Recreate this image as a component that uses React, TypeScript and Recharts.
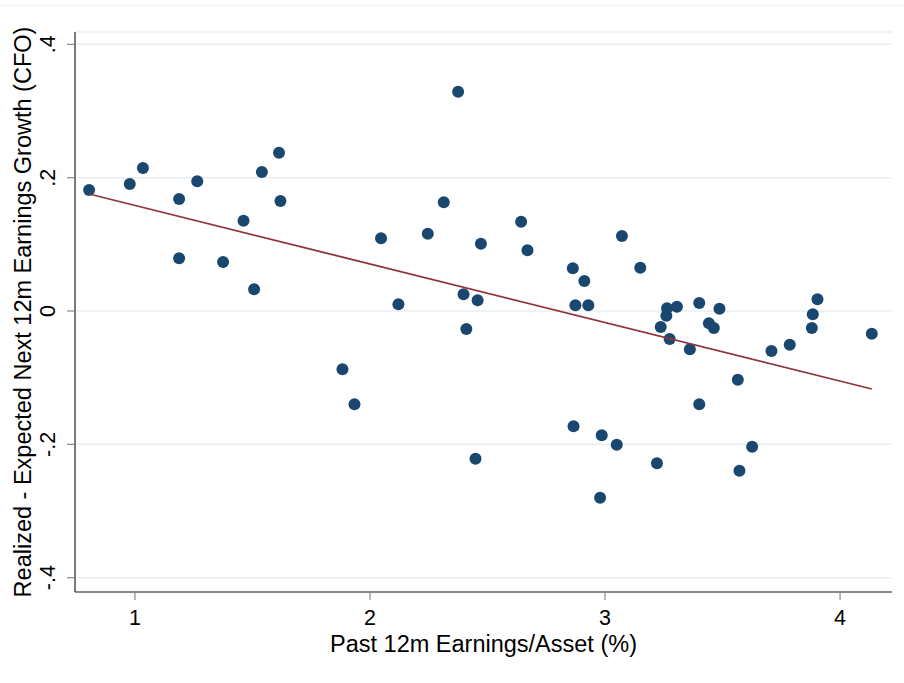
import React from "react";
import {
  ScatterChart,
  Scatter,
  XAxis,
  YAxis,
  CartesianGrid,
  Label,
} from "recharts";

// past 12m earnings/asset (%)
const pastEarnings = [
  0.805, 0.978, 1.034, 1.188, 1.188, 1.265, 1.375, 1.462, 1.507, 1.54, 1.613,
  1.619, 1.883, 1.934, 2.047, 2.121, 2.246, 2.314, 2.375, 2.398, 2.41, 2.449,
  2.458, 2.472, 2.643, 2.67, 2.863, 2.866, 2.874, 2.912, 2.929, 2.979, 2.986,
  3.05, 3.072, 3.15, 3.221, 3.237, 3.261, 3.264, 3.275, 3.306, 3.361, 3.401,
  3.401, 3.442, 3.463, 3.487, 3.565, 3.572, 3.626, 3.708, 3.786, 3.88, 3.884,
  3.904, 4.135,
];

// realized - expected next 12m earnings growth (CFO)
const surprise = [
  0.1815, 0.1905, 0.2145, 0.168, 0.079, 0.1945, 0.0735, 0.1355, 0.0325,
  0.2085, 0.2375, 0.165, -0.0875, -0.14, 0.109, 0.01, 0.116, 0.163, 0.329,
  0.025, -0.027, -0.2215, 0.016, 0.101, 0.134, 0.091, 0.064, -0.173, 0.0085,
  0.045, 0.0085, -0.28, -0.1865, -0.2005, 0.1125, 0.065, -0.2285, -0.024,
  -0.007, 0.004, -0.042, 0.0065, -0.0575, 0.012, -0.14, -0.0185, -0.0255,
  0.0035, -0.103, -0.2395, -0.2035, -0.06, -0.0505, -0.0255, -0.005, 0.0175,
  -0.034,
];

// fitted line end points
const fitX = [0.805, 4.135];
const fitY = [0.1755, -0.117];

const xTicks = [1, 2, 3, 4];
const yTicks = [-0.4, -0.2, 0, 0.2, 0.4];
const yTickLabels = ["-.4", "-.2", "0", ".2", ".4"];

const points = pastEarnings.map((x, i) => ({ x, y: surprise[i] }));
const fitLine = fitX.map((x, i) => ({ x, y: fitY[i] }));

const FONT = "Arial, 'Liberation Sans', sans-serif";

const XTick = (props: any) => {
  const { x, y, payload } = props;
  return (
    <text x={x} y={y} dy={23} textAnchor="middle" fontSize={21.5} fontFamily={FONT} fill="#000">
      {payload.value}
    </text>
  );
};

const YTick = (props: any) => {
  const { x, y, payload } = props;
  const idx = yTicks.indexOf(payload.value);
  const label = idx >= 0 ? yTickLabels[idx] : String(payload.value);
  const bx = x - 10;
  return (
    <text
      x={bx}
      y={y}
      transform={`rotate(-90, ${bx}, ${y})`}
      textAnchor="middle"
      fontSize={21.5}
      fontFamily={FONT}
      fill="#000"
    >
      {label}
    </text>
  );
};

const XTitle = (props: any) => {
  const vb = props.viewBox;
  return (
    <text
      x={vb.x + vb.width / 2}
      y={vb.y + 60}
      textAnchor="middle"
      fontSize={23.5}
      fontFamily={FONT}
      fill="#000"
    >
      Past 12m Earnings/Asset (%)
    </text>
  );
};

const YTitle = (props: any) => {
  const vb = props.viewBox;
  const cx = 31;
  const cy = vb.y + vb.height / 2;
  return (
    <text
      x={cx}
      y={cy}
      transform={`rotate(-90, ${cx}, ${cy})`}
      textAnchor="middle"
      fontSize={23.5}
      fontFamily={FONT}
      fill="#000"
    >
      Realized - Expected Next 12m Earnings Growth (CFO)
    </text>
  );
};

export default function App() {
  return (
    <div style={{ position: "absolute", left: 0, top: 0, width: 904, height: 683, background: "#fff" }}>
      <div style={{ position: "absolute", left: 0, top: 5, width: 904, borderTop: "1px solid #eef1f1" }} />
      <ScatterChart
        width={904}
        height={683}
        margin={{ top: 32, right: 12, left: 0, bottom: 0 }}
      >
        <CartesianGrid vertical={false} stroke="#e8eff2" strokeWidth={1.5} />
        <XAxis
          type="number"
          dataKey="x"
          domain={[0.745, 4.221]}
          ticks={xTicks}
          allowDataOverflow
          height={91}
          axisLine={{ stroke: "#222", strokeWidth: 1.2 }}
          tickLine={{ stroke: "#888", strokeWidth: 1.2 }}
          tickSize={8}
          tick={<XTick />}
        >
          <Label content={<XTitle />} />
        </XAxis>
        <YAxis
          type="number"
          dataKey="y"
          domain={[-0.4215, 0.4185]}
          ticks={yTicks}
          allowDataOverflow
          width={75}
          axisLine={{ stroke: "#222", strokeWidth: 1.2 }}
          tickLine={{ stroke: "#888", strokeWidth: 1.2 }}
          tickSize={8}
          tick={<YTick />}
        >
          <Label content={<YTitle />} />
        </YAxis>
        <Scatter
          data={points}
          fill="#1a476f"
          shape={(p: any) => <circle cx={p.cx} cy={p.cy} r={6} fill="#1a476f" />}
          isAnimationActive={false}
        />
        <Scatter
          data={fitLine}
          line={{ stroke: "#90353b", strokeWidth: 1.8 }}
          shape={() => <g />}
          isAnimationActive={false}
        />
      </ScatterChart>
    </div>
  );
}
